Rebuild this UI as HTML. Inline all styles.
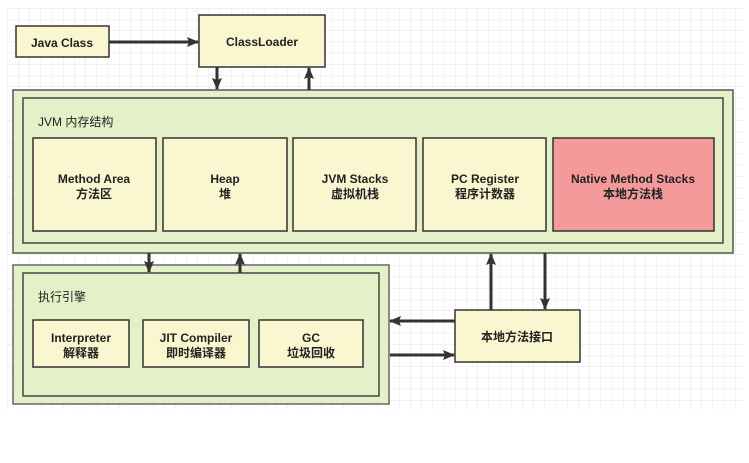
<!DOCTYPE html>
<html><head><meta charset="utf-8"><style>
html,body{margin:0;padding:0;background:#fff;}
svg{display:block;}
text{font-family:"Liberation Sans","Noto Sans CJK SC",sans-serif;font-size:12px;font-weight:bold;fill:#222;}
.t{font-weight:normal;}
</style></head><body>
<svg width="749" height="463" xmlns="http://www.w3.org/2000/svg">
<defs>
<pattern id="g" x="7" y="8" width="11.2" height="11.2" patternUnits="userSpaceOnUse">
<path d="M0 0H11.2M0 0V11.2" stroke="#e6e6e6" stroke-width="1" fill="none"/>
</pattern>
<marker id="a" markerWidth="12" markerHeight="12" refX="11" refY="5" orient="auto" markerUnits="userSpaceOnUse">
<path d="M0 0L12 5L0 10L2 5Z" fill="#333"/></marker>
</defs>
<rect x="7" y="8" width="737" height="402" fill="url(#g)"/>
<g stroke="#333" stroke-width="1.5">
<rect x="16" y="26" width="93" height="31" fill="#faf7d0"/>
<rect x="199" y="15" width="126" height="52" fill="#faf7d0"/>
<rect x="13" y="90" width="720" height="163" fill="#e4f0c8" stroke="#555"/>
<rect x="23" y="98" width="700" height="145" fill="#e4f0c8" stroke="#444"/>
<rect x="33" y="138" width="123" height="93" fill="#faf7d0"/>
<rect x="163" y="138" width="124" height="93" fill="#faf7d0"/>
<rect x="293" y="138" width="123" height="93" fill="#faf7d0"/>
<rect x="423" y="138" width="123" height="93" fill="#faf7d0"/>
<rect x="553" y="138" width="161" height="93" fill="#f59a9a"/>
<rect x="13" y="265" width="376" height="139" fill="#e4f0c8" stroke="#666"/>
<rect x="23" y="273" width="356" height="123" fill="#e4f0c8" stroke="#444"/>
<rect x="33" y="320" width="96" height="47" fill="#faf7d0"/>
<rect x="143" y="320" width="106" height="47" fill="#faf7d0"/>
<rect x="259" y="320" width="104" height="47" fill="#faf7d0"/>
<rect x="455" y="310" width="125" height="52" fill="#faf7d0"/>
</g>
<g stroke="#333" stroke-width="3" marker-end="url(#a)">
<line x1="109" y1="42" x2="198" y2="42"/>
<line x1="217" y1="67" x2="217" y2="89"/>
<line x1="309" y1="90" x2="309" y2="68"/>
<line x1="149" y1="253" x2="149" y2="272"/>
<line x1="240" y1="273" x2="240" y2="254"/>
<line x1="491" y1="310" x2="491" y2="254"/>
<line x1="545" y1="253" x2="545" y2="309"/>
<line x1="455" y1="321" x2="390" y2="321"/>
<line x1="390" y1="355" x2="454" y2="355"/>
</g>
<g text-anchor="middle">
<text x="62" y="47">Java Class</text>
<text x="262" y="46">ClassLoader</text>
<text x="94" y="183">Method Area</text><text x="94" y="198">方法区</text>
<text x="225" y="183">Heap</text><text x="225" y="198">堆</text>
<text x="355" y="183">JVM Stacks</text><text x="355" y="198">虚拟机栈</text>
<text x="485" y="183">PC Register</text><text x="485" y="198">程序计数器</text>
<text x="633" y="183">Native Method Stacks</text><text x="633" y="198">本地方法栈</text>
<text x="81" y="342">Interpreter</text><text x="81" y="357">解释器</text>
<text x="196" y="342">JIT Compiler</text><text x="196" y="357">即时编译器</text>
<text x="311" y="342">GC</text><text x="311" y="357">垃圾回收</text>
<text x="517" y="341">本地方法接口</text>
</g>
<text class="t" x="38" y="126">JVM 内存结构</text>
<text class="t" x="38" y="301">执行引擎</text>
</svg>
</body></html>
